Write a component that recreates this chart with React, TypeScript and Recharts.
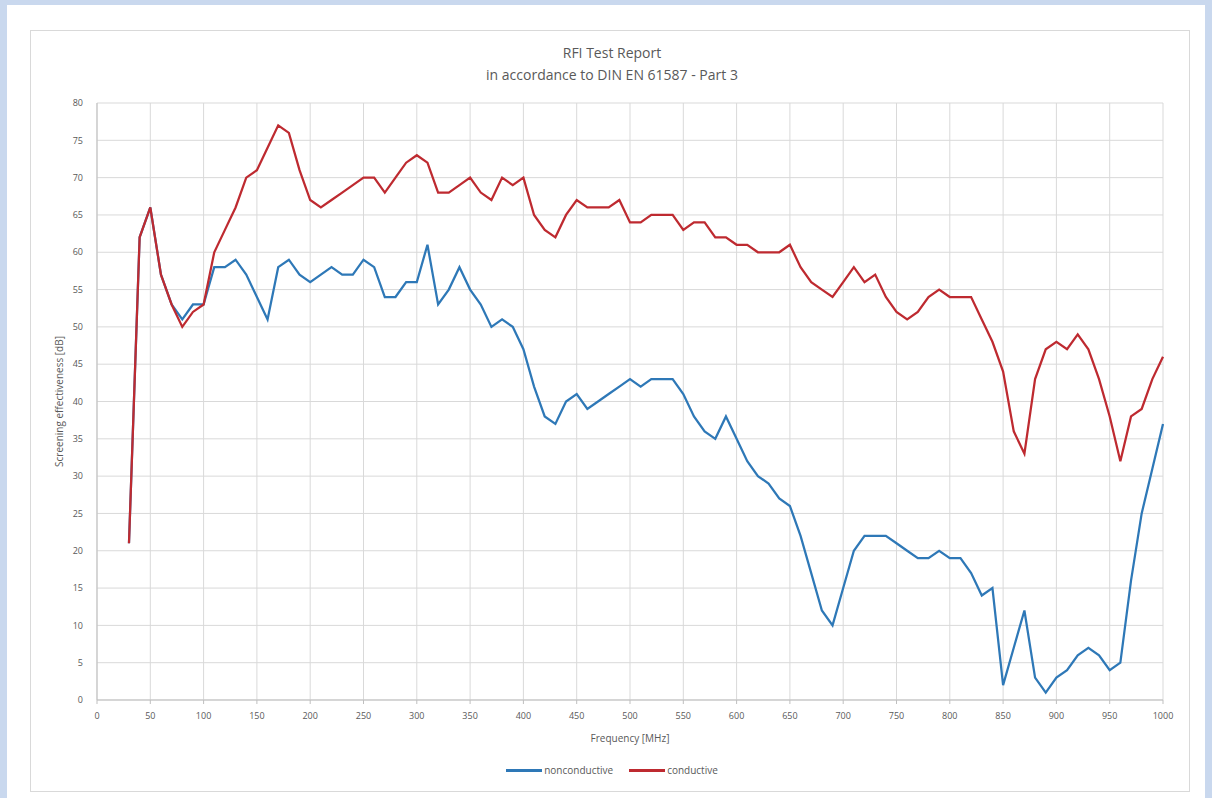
import React from "react"
import { LineChart, Line, XAxis, YAxis, CartesianGrid, Label } from "recharts"

const frequencies = [
  30, 40, 50, 60, 70, 80, 90, 100, 110, 120, 130, 140, 150, 160, 170, 180, 190, 200, 210, 220,
  230, 240, 250, 260, 270, 280, 290, 300, 310, 320, 330, 340, 350, 360, 370, 380, 390, 400, 410, 420,
  430, 440, 450, 460, 470, 480, 490, 500, 510, 520, 530, 540, 550, 560, 570, 580, 590, 600, 610, 620,
  630, 640, 650, 660, 670, 680, 690, 700, 710, 720, 730, 740, 750, 760, 770, 780, 790, 800, 810, 820,
  830, 840, 850, 860, 870, 880, 890, 900, 910, 920, 930, 940, 950, 960, 970, 980, 990, 1000,
]

const nonconductive = [
  21, 62, 66, 57, 53, 51, 53, 53, 58, 58, 59, 57, 54, 51, 58, 59, 57, 56, 57, 58,
  57, 57, 59, 58, 54, 54, 56, 56, 61, 53, 55, 58, 55, 53, 50, 51, 50, 47, 42, 38,
  37, 40, 41, 39, 40, 41, 42, 43, 42, 43, 43, 43, 41, 38, 36, 35, 38, 35, 32, 30,
  29, 27, 26, 22, 17, 12, 10, 15, 20, 22, 22, 22, 21, 20, 19, 19, 20, 19, 19, 17,
  14, 15, 2, 7, 12, 3, 1, 3, 4, 6, 7, 6, 4, 5, 16, 25, 31, 37,
]

const conductive = [
  21, 62, 66, 57, 53, 50, 52, 53, 60, 63, 66, 70, 71, 74, 77, 76, 71, 67, 66, 67,
  68, 69, 70, 70, 68, 70, 72, 73, 72, 68, 68, 69, 70, 68, 67, 70, 69, 70, 65, 63,
  62, 65, 67, 66, 66, 66, 67, 64, 64, 65, 65, 65, 63, 64, 64, 62, 62, 61, 61, 60,
  60, 60, 61, 58, 56, 55, 54, 56, 58, 56, 57, 54, 52, 51, 52, 54, 55, 54, 54, 54,
  51, 48, 44, 36, 33, 43, 47, 48, 47, 49, 47, 43, 38, 32, 38, 39, 43, 46,
]

const xTicks = [0, 50, 100, 150, 200, 250, 300, 350, 400, 450, 500, 550, 600, 650, 700, 750, 800, 850, 900, 950, 1000]
const yTicks = [0, 5, 10, 15, 20, 25, 30, 35, 40, 45, 50, 55, 60, 65, 70, 75, 80]

const data = frequencies.map((f, i) => ({
  freq: f,
  nonconductive: nonconductive[i],
  conductive: conductive[i],
}))

const FONT = "'Open Sans', 'Liberation Sans', sans-serif"
const TEXT = "#595959"
const BLUE = "#2E78B7"
const RED = "#BE2A30"

export default function App() {
  return (
    <div style={{ position: "relative", width: 1212, height: 798, background: "#C9D8EE", fontFamily: FONT }}>
      <style>{`body{margin:0}`}</style>
      <div style={{ position: "absolute", left: 7, top: 5, width: 1198, height: 793, background: "#fff" }} />
      <div
        style={{
          position: "absolute",
          left: 30,
          top: 30,
          width: 1160,
          height: 762,
          border: "1px solid #d9d9d9",
          boxSizing: "border-box",
        }}
      />
      <div style={{ position: "absolute", left: 0, width: 1224, top: 42, textAlign: "center", color: TEXT, fontSize: 14, lineHeight: "22px" }}>
        <div>RFI Test Report</div>
        <div>in accordance to DIN EN 61587 - Part 3</div>
      </div>
      <div style={{ position: "absolute", left: 0, top: 0 }}>
        <LineChart width={1212} height={798} data={data} margin={{ top: 103, right: 49, left: 47, bottom: 68 }}>
          <CartesianGrid stroke="#d9d9d9" strokeWidth={1} />
          <XAxis
            dataKey="freq"
            type="number"
            domain={[0, 1000]}
            ticks={xTicks}
            interval={0}
            height={30}
            stroke="#bfbfbf"
            tickSize={4}
            tick={{ fill: TEXT, fontSize: 9, fontFamily: FONT }}
            tickMargin={9}
          >
            <Label value="Frequency [MHz]" position="insideBottom" offset={-12} fill={TEXT} fontSize={10} fontFamily={FONT} />
          </XAxis>
          <YAxis
            type="number"
            domain={[0, 80]}
            ticks={yTicks}
            interval={0}
            width={50}
            stroke="#bfbfbf"
            tickLine={false}
            tick={{ fill: TEXT, fontSize: 9, fontFamily: FONT }}
            tickMargin={8}
          >
            <Label
              value="Screening effectiveness [dB]"
              angle={-90}
              position="insideLeft"
              offset={12}
              style={{ textAnchor: "middle" }}
              fill={TEXT}
              fontSize={10}
              fontFamily={FONT}
            />
          </YAxis>
          <Line
            type="linear"
            dataKey="nonconductive"
            stroke={BLUE}
            strokeWidth={2.25}
            dot={false}
            isAnimationActive={false}
          />
          <Line
            type="linear"
            dataKey="conductive"
            stroke={RED}
            strokeWidth={2.25}
            dot={false}
            isAnimationActive={false}
          />
        </LineChart>
      </div>
      <div
        style={{
          position: "absolute",
          left: 0,
          width: 1224,
          top: 763,
          display: "flex",
          justifyContent: "center",
          alignItems: "center",
          color: TEXT,
          fontSize: 10,
        }}
      >
        <span style={{ display: "inline-block", width: 36, height: 3, background: BLUE, marginRight: 2 }} />
        <span style={{ marginRight: 16 }}>nonconductive</span>
        <span style={{ display: "inline-block", width: 36, height: 3, background: RED, marginRight: 2 }} />
        <span>conductive</span>
      </div>
    </div>
  )
}
